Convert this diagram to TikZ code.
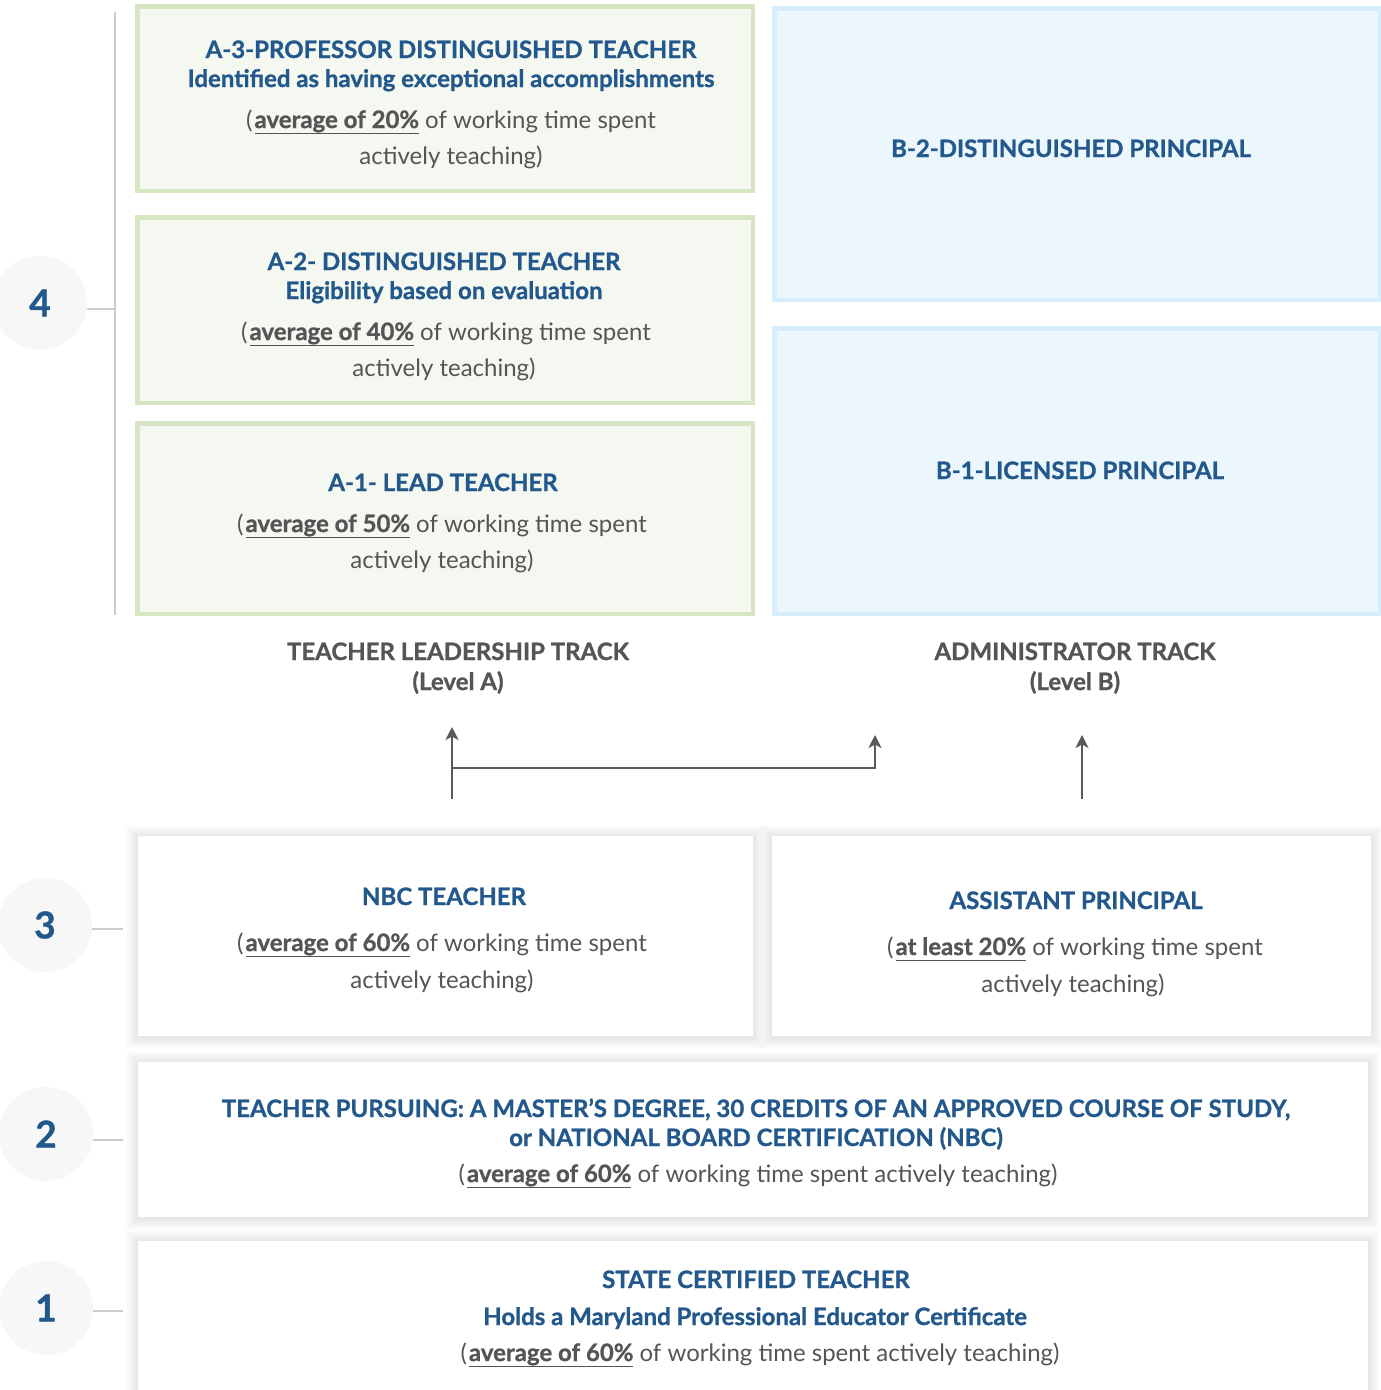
\documentclass[tikz,border=0pt]{standalone}
\usepackage{fontspec}
\setmainfont{Lato}[BoldFeatures={FakeBold=1}]
\usetikzlibrary{arrows.meta}
\definecolor{tblue}{RGB}{35,88,140}
\definecolor{tgray}{RGB}{85,85,85}
\definecolor{gborder}{RGB}{214,229,194}
\definecolor{gfill}{RGB}{244,248,240}
\definecolor{bborder}{RGB}{214,237,251}
\definecolor{bfill}{RGB}{235,246,253}
\definecolor{cfill}{RGB}{247,247,247}
\definecolor{lgray}{RGB}{205,205,205}
\definecolor{agray}{RGB}{90,90,90}
\newcommand{\ulpct}[1]{\setbox0=\hbox{\bfseries #1}\rlap{\rule[-6pt]{\wd0}{1.3pt}}\box0\relax}
\newcommand{\lpar}{(\kern2pt}
\pgfdeclarelayer{bg}
\pgfdeclarelayer{shadow}
\pgfsetlayers{bg,shadow,main}
\newcommand{\softshadow}[1]{%
  \begin{pgfonlayer}{shadow}
    \foreach \i in {1,...,12}{
      \fill[black, opacity=0.009]
        ([shift={(-\i,-\i+1)}]#1.north west) rectangle ([shift={(\i,\i+1)}]#1.south east);
    }
  \end{pgfonlayer}}
\begin{document}
\begin{tikzpicture}[x=1pt,y=-1pt,
  gbox/.style={draw=gborder, fill=gfill, line width=4.5pt, inner sep=0pt, outer sep=0pt},
  bbox/.style={draw=bborder, fill=bfill, line width=4.5pt, inner sep=0pt, outer sep=0pt},
  wbox/.style={fill=white, inner sep=0pt, outer sep=0pt},
  numc/.style={circle, fill=cfill, minimum size=94pt, inner sep=0pt, outer sep=0pt,
     text=tblue, font=\fontsize{37}{40}\selectfont\bfseries},
  tick/.style={draw=lgray, line width=2pt},
  arr/.style={draw=agray, line width=2pt, -{Stealth[length=13pt,width=13pt,inset=3.5pt]}},
  tx/.style={anchor=base, inner sep=0pt, outer sep=0pt},
  ttl/.style={tx, text=tblue, font=\fontsize{24}{28}\selectfont\bfseries},
  bdy/.style={tx, text=tgray, font=\fontsize{24}{28}\selectfont},
  trk/.style={tx, text=tgray, font=\fontsize{24}{28}\selectfont\bfseries}
]
\clip (0,0) rectangle (1381,1390);
\begin{pgfonlayer}{bg}
\fill[white] (0,0) rectangle (1381,1390);
\end{pgfonlayer}

% ---------- level 4 boxes
\node[gbox, minimum width=615.5pt, minimum height=184.5pt] (a3) at (445,98.5) {};
\node[gbox, minimum width=615.5pt, minimum height=185.5pt] (a2) at (445,310) {};
\node[gbox, minimum width=615.5pt, minimum height=190.5pt] (a1) at (445,518.5) {};
\node[bbox, minimum width=605.5pt, minimum height=291.5pt] (b2) at (1077,154) {};
\node[bbox, minimum width=605.5pt, minimum height=285.5pt] (b1) at (1077,471) {};

\node[ttl] (a3t) at (451,58) {A-3-PROFESSOR DISTINGUISHED TEACHER};
\node[ttl] (a3s) at (451,87) {Identified as having exceptional accomplishments};
\node[bdy] (a3b) at (451,128) {\lpar\ulpct{average of 20\%} of working time spent};
\node[bdy] (a3c) at (451,164) {actively teaching)};

\node[ttl] (a2t) at (444,270) {A-2- DISTINGUISHED TEACHER};
\node[ttl] (a2s) at (444,299) {Eligibility based on evaluation};
\node[bdy] (a2b) at (446,340) {\lpar\ulpct{average of 40\%} of working time spent};
\node[bdy] (a2c) at (444,376) {actively teaching)};

\node[ttl] (a1t) at (443,491) {A-1- LEAD TEACHER};
\node[bdy] (a1b) at (442,532) {\lpar\ulpct{average of 50\%} of working time spent};
\node[bdy] (a1c) at (442,568) {actively teaching)};

\node[ttl] (b2t) at (1071,157) {B-2-DISTINGUISHED PRINCIPAL};
\node[ttl] (b1t) at (1080,479) {B-1-LICENSED PRINCIPAL};

% ---------- tracks
\node[trk] (tla) at (458,660) {TEACHER LEADERSHIP TRACK};
\node[trk] (tlb) at (458,690) {(Level A)};
\node[trk] (tra) at (1075,660) {ADMINISTRATOR TRACK};
\node[trk] (trb) at (1075,690) {(Level B)};

\coordinate (la0) at (452,799);
\coordinate (la1) at (452,727);
\coordinate (lh) at (452,768);
\coordinate (ma) at (875,735);
\coordinate (ra0) at (1082,799);
\coordinate (ra1) at (1082,735);
\draw[arr] (la0) -- (la1);
\draw[arr] (lh) -| (ma);
\draw[arr] (ra0) -- (ra1);

% ---------- level 3
\node[wbox, minimum width=615pt, minimum height=200pt] (nbc) at (445.5,936) {};
\node[wbox, minimum width=599pt, minimum height=200pt] (ap) at (1071.5,936) {};
\softshadow{nbc}
\softshadow{ap}
\node[ttl] (nbct) at (444,905) {NBC TEACHER};
\node[bdy] (nbcb) at (442,951) {\lpar\ulpct{average of 60\%} of working time spent};
\node[bdy] (nbcc) at (442,988) {actively teaching)};
\node[ttl] (apt) at (1076,909) {ASSISTANT PRINCIPAL};
\node[bdy] (apb) at (1075,955) {\lpar\ulpct{at least 20\%} of working time spent};
\node[bdy] (apc) at (1073,992) {actively teaching)};

% ---------- level 2
\node[wbox, minimum width=1230pt, minimum height=155pt] (l2) at (753,1139.5) {};
\softshadow{l2}
\node[ttl] (l2t) at (756,1117) {TEACHER PURSUING: A MASTER’S DEGREE, 30 CREDITS OF AN APPROVED COURSE OF STUDY,};
\node[ttl] (l2s) at (756,1146) {or NATIONAL BOARD CERTIFICATION (NBC)};
\node[bdy] (l2b) at (758,1182) {\lpar\ulpct{average of 60\%} of working time spent actively teaching)};

% ---------- level 1
\node[wbox, minimum width=1230pt, minimum height=159pt] (l1) at (753,1320.5) {};
\softshadow{l1}
\node[ttl] (l1t) at (756,1288) {STATE CERTIFIED TEACHER};
\node[ttl] (l1s) at (755,1325) {Holds a Maryland Professional Educator Certificate};
\node[bdy] (l1b) at (760,1361) {\lpar\ulpct{average of 60\%} of working time spent actively teaching)};

% ---------- level markers
\node[numc] (n4) at (40,303) {4};
\node[numc] (n3) at (45,925) {3};
\node[numc] (n2) at (46,1134) {2};
\node[numc] (n1) at (46,1308) {1};

\coordinate (vtop) at (115,12);
\coordinate (vbot) at (115,615);
\draw[tick] (vtop) -- (vbot);
\coordinate (t4) at (115,309);
\coordinate (t3) at (123,929);
\coordinate (t2) at (123,1140);
\coordinate (t1) at (123,1311);
\draw[tick] (n4.east |- t4) -- (t4);
\draw[tick] (n3.east |- t3) -- (t3);
\draw[tick] (n2.east |- t2) -- (t2);
\draw[tick] (n1.east |- t1) -- (t1);
\end{tikzpicture}
\end{document}
